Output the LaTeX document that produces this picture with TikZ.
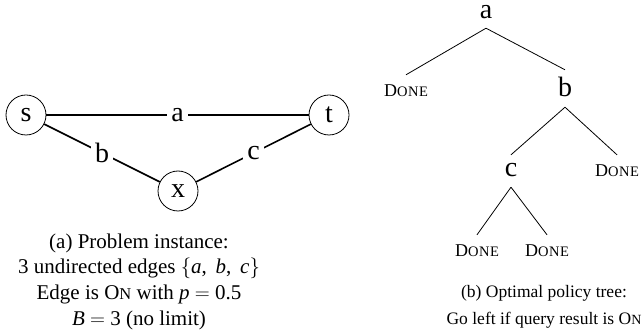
\documentclass[tikz,border=0pt]{standalone}
\usepackage{fontspec}
\setmainfont{Liberation Serif}
\newcommand{\capfont}{\fontsize{21}{26}\selectfont}
\newcommand{\capbfont}{\fontsize{17.5}{22}\selectfont}
\newcommand{\bigfont}{\fontsize{28}{32}\selectfont}
\newcommand{\scON}{O{\fontsize{16.5}{20}\selectfont N}}
\newcommand{\scONb}{O{\fontsize{14}{16}\selectfont N}}
\newcommand{\scDONE}{{\fontsize{18}{20}\selectfont D}{\fontsize{14.5}{16}\selectfont O\kern0.6pt N\kern0.6pt E}}
\begin{document}
\begin{tikzpicture}[x=1pt,y=-1pt,
  vert/.style={draw, circle, line width=0.8pt, minimum size=40pt, inner sep=0pt, font=\bigfont},
  gedge/.style={line width=1.6pt},
  elab/.style={fill=white, inner sep=4pt, font=\bigfont},
  tnode/.style={anchor=base, inner xsep=0pt, inner ysep=10pt, text height=12pt, text depth=0pt},
  tlet/.style={tnode, font=\bigfont},
  tdone/.style={tnode},
  tline/.style={line width=0.8pt},
  capline/.style={anchor=base, inner sep=0pt, font=\capfont},
  capbline/.style={anchor=base, inner sep=0pt, font=\capbfont}]
\useasboundingbox (0,0) rectangle (642,336);
% graph
\node[vert] (s) at (26,115) {s};
\node[vert] (t) at (329,115) {t};
\node[vert] (x) at (178,191) {x};
\draw[gedge] (s) -- node[elab] (la) {a} (t);
\draw[gedge] (s) -- node[elab] (lb) {b} (x);
\draw[gedge] (x) -- node[elab] (lc) {c} (t);
% caption (a)
\node[capline] (ca1) at (139,249) {(a) Problem instance:};
\node[capline] (ca2) at (139,274) {3 undirected edges $\{$\textit{a}, \,\textit{b}, \,\textit{c}$\}$};
\node[capline] (ca3) at (139,300) {Edge is \scON\ with \textit{p} $=$ 0.5};
\node[capline] (ca4) at (139,326) {\textit{B} $=$ 3 (no limit)};
% tree
\node[tlet, text height=9pt, inner ysep=9pt] (ta) at (486,19) {a};
\node[tdone] (d1) at (406,97) {\scDONE};
\node[tlet, text height=17pt] (tb) at (565,97) {b};
\node[tlet] (tc) at (511,177) {c};
\node[tdone] (d2) at (617,177) {\scDONE};
\node[tdone] (d3) at (477,257) {\scDONE};
\node[tdone] (d4) at (547,257) {\scDONE};
\draw[tline] (ta.south) -- (d1.north);
\draw[tline] (ta.south) -- (tb.north);
\draw[tline] (tb.south) -- (tc.north);
\draw[tline] (tb.south) -- (d2.north);
\draw[tline] (tc.south) -- (d3.north);
\draw[tline] (tc.south) -- (d4.north);
% caption (b)
\node[capbline] (cb1) at (544,298) {(b) Optimal policy tree:};
\node[capbline] (cb2) at (544,325) {Go left if query result is \scONb};
\end{tikzpicture}
\end{document}
